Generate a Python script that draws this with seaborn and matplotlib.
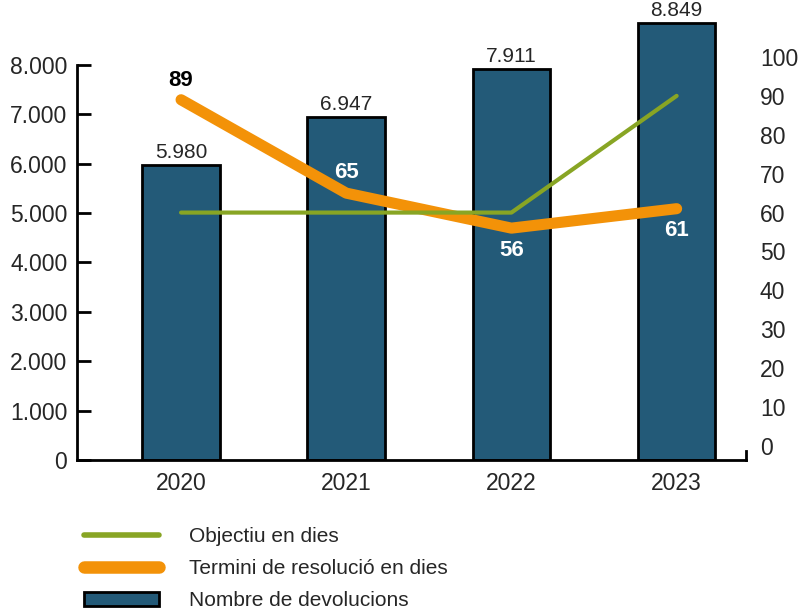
import numpy as np
import seaborn as sns
import matplotlib.pyplot as plt
from matplotlib.lines import Line2D
from matplotlib.patches import Patch

# data
years = ["2020", "2021", "2022", "2023"]
devolucions = [5980, 6947, 7911, 8849]
termini = [89, 65, 56, 61]
objectiu = [60, 60, 60, 90]
left_ticks = [0, 1000, 2000, 3000, 4000, 5000, 6000, 7000, 8000]
right_ticks = [0, 10, 20, 30, 40, 50, 60, 70, 80, 90, 100]

bar_color = "#235a78"
orange = "#f39208"
green = "#88a524"

sns.set_theme(style="white")
plt.rcParams["font.family"] = ["Liberation Sans", "DejaVu Sans"]

fig = plt.figure(figsize=(8.09, 6.12), dpi=100)
ax = fig.add_axes([77 / 809, 152 / 612, 669 / 809, 447 / 612])

pos = np.arange(len(years))
sns.barplot(x=pos, y=devolucions, color=bar_color, width=0.47, saturation=1,
            edgecolor="black", linewidth=2, ax=ax)
ax.set_xlim(-0.63, 3.42)
ax.set_ylim(0, 9050)
ax.set_yticks(left_ticks)
ax.set_yticklabels([f"{v:,}".replace(",", ".") for v in left_ticks])
ax.set_xticks(pos)
ax.set_xticklabels(years)
ax.tick_params(axis="y", direction="in", length=10, width=2, color="black",
               labelsize=16.5, pad=7, left=True)
ax.tick_params(axis="x", length=0, labelsize=16.5, pad=9)
for s in ["top", "right"]:
    ax.spines[s].set_visible(False)
ax.spines["left"].set_bounds(0, 8000)
ax.spines["left"].set_linewidth(2)
ax.spines["bottom"].set_linewidth(2)
ax.spines["left"].set_color("black")
ax.spines["bottom"].set_color("black")

ax.bar_label(ax.containers[0], labels=[f"{v:,}".replace(",", ".") for v in devolucions],
             padding=2, fontsize=15)

ax2 = ax.twinx()
sns.lineplot(x=pos, y=termini, color=orange, linewidth=8, ax=ax2,
             solid_capstyle="round", legend=False)
sns.lineplot(x=pos, y=objectiu, color=green, linewidth=3, ax=ax2, legend=False)
ax2.set_ylim(-3.6, 111.3)
ax2.set_yticks(right_ticks)
ax2.tick_params(axis="y", length=0, labelsize=16.5, pad=10)
for s in ["top", "left", "bottom"]:
    ax2.spines[s].set_visible(False)
ax2.spines["right"].set_bounds(-3.6, -1.4)
ax2.spines["right"].set_linewidth(2)
ax2.spines["right"].set_color("black")
ax2.set_xlabel("")
ax2.set_ylabel("")

offsets = [14, 15, -16, -16]
colors = ["black", "white", "white", "white"]
for i, v in enumerate(termini):
    ax2.annotate(str(v), (pos[i], v), xytext=(0, offsets[i]), textcoords="offset points",
                 ha="center", va="center", fontsize=16, fontweight="bold", color=colors[i])

handles = [
    Line2D([], [], color=green, linewidth=4),
    Line2D([], [], color=orange, linewidth=9, solid_capstyle="round"),
    Patch(facecolor=bar_color, edgecolor="black", linewidth=2),
]
labels = ["Objectiu en dies", "Termini de resolució en dies", "Nombre de devolucions"]
fig.legend(handles, labels, loc="upper left", bbox_to_anchor=(74 / 809, 1 - 517 / 612),
           frameon=False, fontsize=15, handlelength=3.6, handletextpad=1.4,
           labelspacing=0.62, borderpad=0)

fig.savefig("out.png", dpi=100)
